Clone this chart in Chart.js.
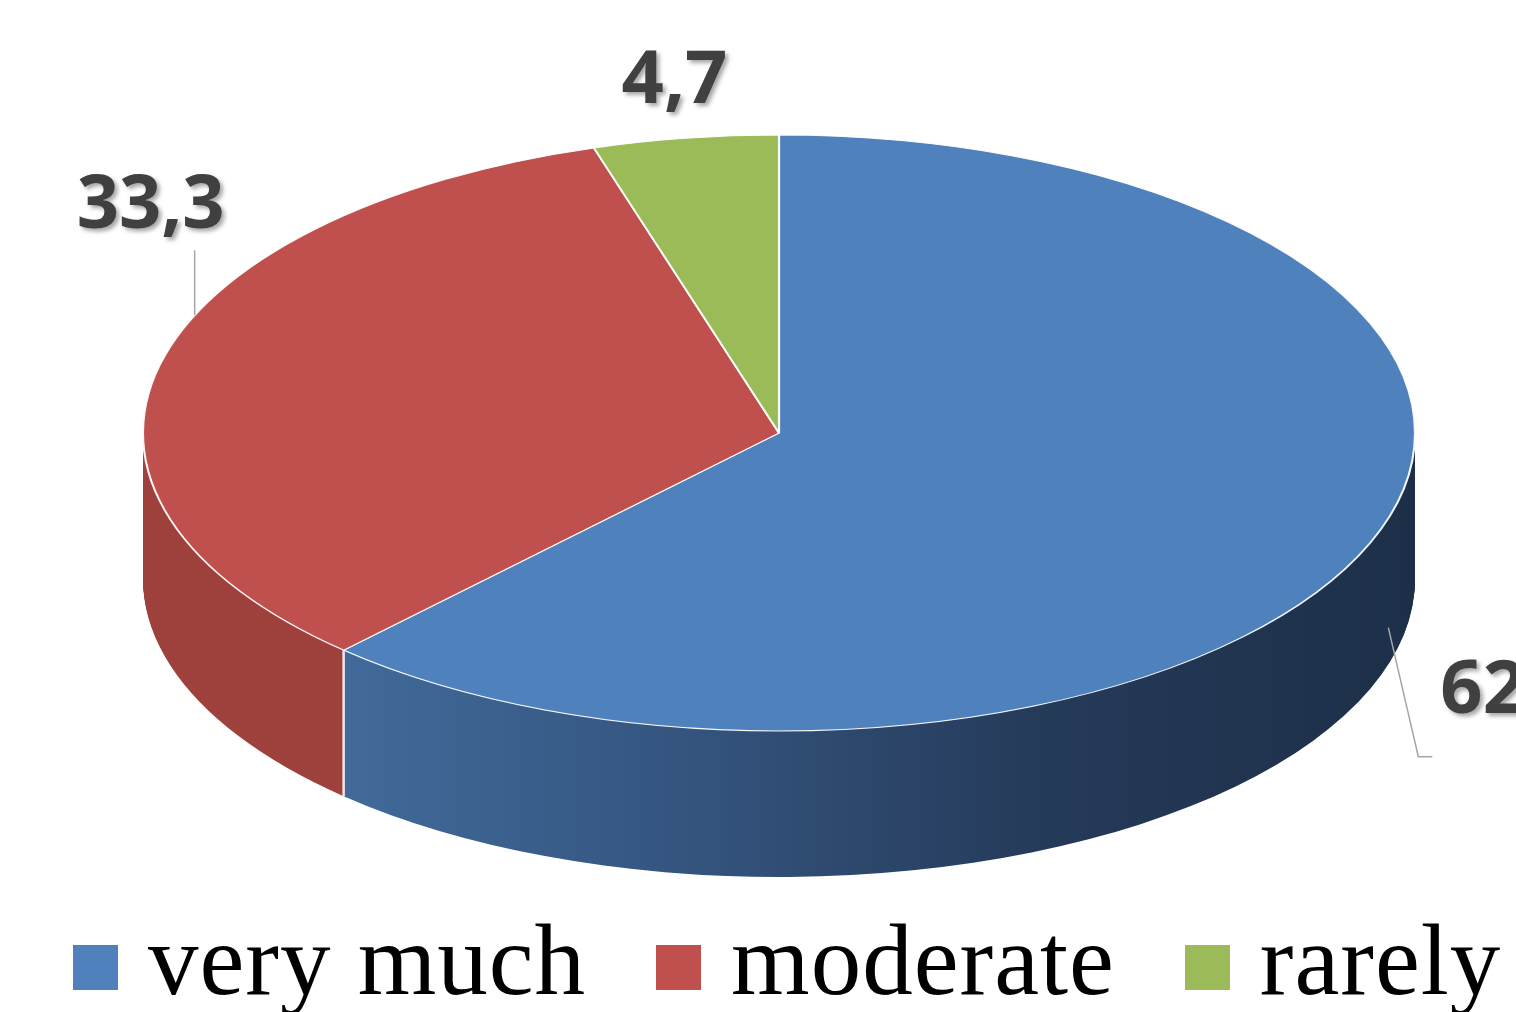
<!DOCTYPE html>
<html>
<head>
<meta charset="utf-8">
<script src="https://cdn.jsdelivr.net/npm/chart.js@4/dist/chart.umd.min.js"></script>
<style>
  html, body { margin: 0; padding: 0; background: #ffffff; overflow: hidden; }
  #wrap { position: relative; width: 1516px; height: 1012px; }
  #pie-chart { position: absolute; left: 0; top: 0; }
  #legend {
    position: absolute; left: 73px; top: 910px;
    font-family: 'Liberation Serif', serif; font-size: 101px; line-height: 101px;
    letter-spacing: 1px; color: #000000; white-space: nowrap;
  }
  .item { display: inline-block; margin-right: 70px; }
  .box { display: inline-block; width: 45px; height: 45px; margin-right: 30px; position: relative; top: -4px; }
</style>
</head>
<body>
<div id="wrap">
  <canvas id="pie-chart" width="1516" height="1012"></canvas>
  <div id="legend"></div>
</div>
<script>
const categories = ['very much', 'moderate', 'rarely'];
const values = [62, 33.3, 4.7];

const topColors = ['#4f81bd', '#c0504d', '#9bbb59'];
const sideStops = [
  [[0, '#4a78ad'], [0.2, '#3f6796'], [0.45, '#33527c'], [0.7, '#253b5a'], [1, '#1d2f48']],
  [[0, '#9e403c'], [1, '#a3433f']],
  [[0, '#7e9a48'], [1, '#7e9a48']],
];

// x stretch turns the library's circle into the flat ellipse, DEPTH is the wall height
const STRETCH_X = 636 / 298;
const DEPTH = 146;

// label placement relative to the rim point at each slice's middle angle
const labelOffsets = [
  { dx: 70, dy: 170, align: 'left', leader: [[18, 85], [48, 214], [62, 214]] },
  { dx: -9, dy: -137, align: 'center', leader: [[35, -50], [35, -115]] },
  { dx: -11, dy: -35, align: 'center', leader: null },
];

const chartCanvas = document.getElementById('pie-chart');
const legendElem = document.getElementById('legend');

function formatValue(v) {
  return String(v).replace('.', ',');
}

function sideGradient(ctx, cx, r, i) {
  const g = ctx.createLinearGradient(cx - r, 0, cx + r, 0);
  sideStops[i].forEach(([p, c]) => g.addColorStop(p, c));
  return g;
}

const pie3d = {
  id: 'pie3d',
  beforeDatasetsDraw(chart) {
    const ctx = chart.ctx;
    const arcs = chart.getDatasetMeta(0).data;
    const cx = arcs[0].x;
    const cy = arcs[0].y;
    const r = arcs[0].outerRadius;

    ctx.save();
    ctx.translate(cx, cy);
    ctx.scale(STRETCH_X, 1);
    ctx.translate(-cx, -cy);

    // side wall: the slices pushed down one pixel at a time, deepest first
    const sideOpts = arcs.map((arc, i) =>
      Object.assign({}, arc.options, { backgroundColor: sideGradient(ctx, cx, r, i), borderWidth: 0 })
    );
    for (let d = DEPTH; d >= 1; d--) {
      ctx.save();
      ctx.translate(0, d);
      arcs.forEach((arc, i) => {
        const saved = arc.options;
        arc.options = sideOpts[i];
        arc.draw(ctx);
        arc.options = saved;
      });
      ctx.restore();
    }

    // light seams where the visible walls meet, on the front half of the rim
    ctx.strokeStyle = 'rgba(255, 255, 255, 0.85)';
    ctx.lineWidth = 1.2;
    arcs.forEach((arc) => {
      const a = arc.startAngle;
      if (Math.sin(a) > 0) {
        const x = cx + r * Math.cos(a);
        const y = cy + r * Math.sin(a);
        ctx.beginPath();
        ctx.moveTo(x, y);
        ctx.lineTo(x, y + DEPTH);
        ctx.stroke();
      }
    });
  },
  afterDatasetsDraw(chart) {
    chart.ctx.restore();
  },
  afterDraw(chart) {
    const ctx = chart.ctx;
    const arcs = chart.getDatasetMeta(0).data;
    ctx.save();
    arcs.forEach((arc, i) => {
      const mid = (arc.startAngle + arc.endAngle) / 2;
      const rx = arc.x + STRETCH_X * arc.outerRadius * Math.cos(mid);
      const ry = arc.y + arc.outerRadius * Math.sin(mid);
      const lo = labelOffsets[i];

      if (lo.leader) {
        ctx.strokeStyle = '#a6a6a6';
        ctx.lineWidth = 1.5;
        ctx.beginPath();
        lo.leader.forEach(([x, y], k) => {
          if (k === 0) ctx.moveTo(rx + x, ry + y);
          else ctx.lineTo(rx + x, ry + y);
        });
        ctx.stroke();
      }

      ctx.font = "bold 74px 'Open Sans', sans-serif";
      ctx.textAlign = lo.align;
      ctx.textBaseline = 'alphabetic';
      ctx.shadowColor = 'rgba(0, 0, 0, 0.35)';
      ctx.shadowOffsetX = 3;
      ctx.shadowOffsetY = 3;
      ctx.shadowBlur = 4;
      ctx.fillStyle = '#404040';
      ctx.fillText(formatValue(values[i]), rx + lo.dx, ry + lo.dy);
      ctx.shadowColor = 'transparent';
    });
    ctx.restore();
  },
};

function buildLegend() {
  categories.forEach((name, i) => {
    const item = document.createElement('span');
    item.className = 'item';
    const box = document.createElement('span');
    box.className = 'box';
    box.style.background = topColors[i];
    const text = document.createElement('span');
    text.textContent = name;
    item.appendChild(box);
    item.appendChild(text);
    legendElem.appendChild(item);
  });
}

buildLegend();

new Chart(chartCanvas, {
  type: 'pie',
  data: {
    labels: categories,
    datasets: [
      {
        data: values,
        backgroundColor: topColors,
        borderColor: 'rgba(255, 255, 255, 0.95)',
        borderWidth: 1,
        radius: 298,
      },
    ],
  },
  options: {
    responsive: false,
    devicePixelRatio: 1,
    animation: false,
    layout: { padding: { left: 42, right: 0, top: 0, bottom: 146 } },
    plugins: {
      legend: { display: false },
      tooltip: { enabled: false },
    },
  },
  plugins: [pie3d],
});
</script>
</body>
</html>
